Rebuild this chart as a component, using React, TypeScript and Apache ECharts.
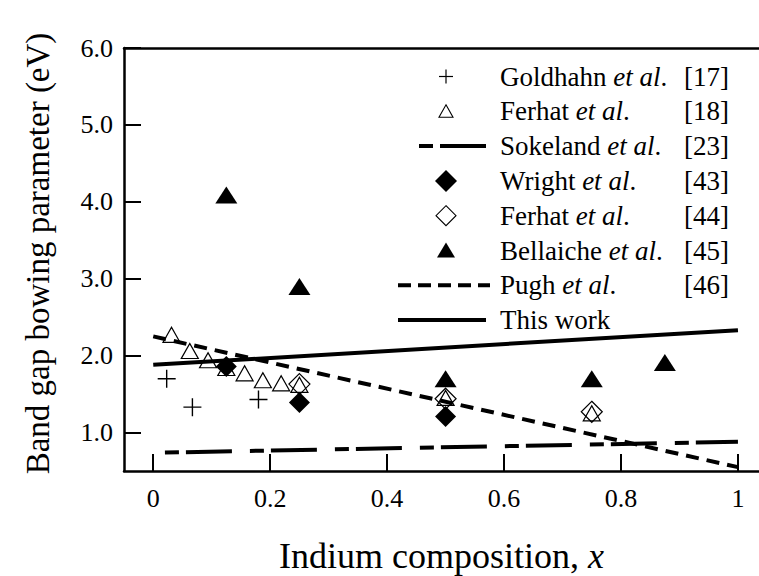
import React, { useEffect, useRef } from "react";
import * as echarts from "echarts";

// ---- data ----
const xTickValues = [0, 0.2, 0.4, 0.6, 0.8, 1];
const yTickValues = [1, 2, 3, 4, 5, 6];

const goldhahnX = [0.023, 0.067, 0.18];
const goldhahnY = [1.7, 1.33, 1.43];

const ferhat18X = [0.03125, 0.0625, 0.09375, 0.125, 0.15625, 0.1875, 0.21875, 0.25, 0.5, 0.75];
const ferhat18Y = [2.27, 2.06, 1.94, 1.84, 1.77, 1.68, 1.64, 1.62, 1.45, 1.25];

const sokelandX = [0.02, 1.0];
const sokelandY = [0.74, 0.88];

const wrightX = [0.125, 0.25, 0.5];
const wrightY = [1.86, 1.39, 1.21];

const ferhat44X = [0.25, 0.5, 0.75];
const ferhat44Y = [1.63, 1.44, 1.27];

const bellaicheX = [0.125, 0.25, 0.5, 0.75, 0.875];
const bellaicheY = [4.09, 2.9, 1.7, 1.7, 1.91];

const pughX = [0, 1];
const pughY = [2.25, 0.55];

const thisWorkX = [0, 1];
const thisWorkY = [1.88, 2.33];

const legendNames = ["Goldhahn", "Ferhat", "Sokeland", "Wright", "Ferhat", "Bellaiche", "Pugh", "This work"];
const legendEtAl = [true, true, true, true, true, true, true, false];
const legendRefs = ["[17]", "[18]", "[23]", "[43]", "[44]", "[45]", "[46]", ""];
const legendSymbols = ["plus", "openTriangle", "sokeland", "filledDiamond", "openDiamond", "filledTriangle", "pugh", "solid"];

const zip = (xs: number[], ys: number[]) => xs.map((x, i) => [x, ys[i]]);

const FONT = "Liberation Serif";
const LEG_FS = 27;
const PLUS_PATH = "path://M8.3,0 H9.7 V8.3 H18 V9.7 H9.7 V18 H8.3 V9.7 H0 V8.3 H8.3 Z";

function buildLegend(): any[] {
  const els: any[] = [];
  const y0 = 76.5;
  const dy = 34.8;
  const cx = 446;
  legendNames.forEach((name, i) => {
    const y = y0 + i * dy;
    const kind = legendSymbols[i];
    if (kind === "plus") {
      els.push({ type: "line", shape: { x1: cx - 7, y1: y, x2: cx + 7, y2: y }, style: { stroke: "#000", lineWidth: 1.2 } });
      els.push({ type: "line", shape: { x1: cx, y1: y - 7, x2: cx, y2: y + 7 }, style: { stroke: "#000", lineWidth: 1.2 } });
    } else if (kind === "openTriangle") {
      els.push({ type: "polygon", shape: { points: [[cx, y - 6.5], [cx + 7, y + 6], [cx - 7, y + 6]] }, style: { fill: "none", stroke: "#000", lineWidth: 1.1 } });
    } else if (kind === "filledTriangle") {
      els.push({ type: "polygon", shape: { points: [[cx, y - 8], [cx + 9, y + 7], [cx - 9, y + 7]] }, style: { fill: "#000" } });
    } else if (kind === "filledDiamond") {
      els.push({ type: "polygon", shape: { points: [[cx, y - 11], [cx + 11, y], [cx, y + 11], [cx - 11, y]] }, style: { fill: "#000" } });
    } else if (kind === "openDiamond") {
      els.push({ type: "polygon", shape: { points: [[cx, y - 10], [cx + 10, y], [cx, y + 10], [cx - 10, y]] }, style: { fill: "none", stroke: "#000", lineWidth: 1.1 } });
    } else if (kind === "sokeland") {
      els.push({ type: "line", shape: { x1: 419, y1: y, x2: 486, y2: y }, style: { stroke: "#000", lineWidth: 4, lineDash: [14, 7, 46, 18] } });
    } else if (kind === "pugh") {
      els.push({ type: "line", shape: { x1: 398, y1: y, x2: 490, y2: y }, style: { stroke: "#000", lineWidth: 4, lineDash: [13, 7] } });
    } else if (kind === "solid") {
      els.push({ type: "line", shape: { x1: 398, y1: y, x2: 486, y2: y }, style: { stroke: "#000", lineWidth: 4 } });
    }
    els.push({
      type: "text",
      x: 500,
      y: y,
      style: {
        text: legendEtAl[i] ? `{n|${name} }{i|et al}{n|.}` : `{n|${name}}`,
        fill: "#000",
        fontFamily: FONT,
        fontSize: LEG_FS,
        verticalAlign: "middle",
        rich: {
          n: { fontFamily: FONT, fontSize: LEG_FS },
          i: { fontFamily: FONT, fontSize: LEG_FS, fontStyle: "italic" },
        },
      },
    });
    if (legendRefs[i]) {
      els.push({
        type: "text",
        x: 729,
        y: y,
        style: { text: legendRefs[i], fontFamily: FONT, fontSize: LEG_FS, fill: "#000", align: "right", verticalAlign: "middle" },
      });
    }
  });
  return els;
}

export default function App() {
  const ref = useRef<HTMLDivElement>(null);
  useEffect(() => {
    document.body.style.margin = "0";
    const chart = echarts.init(ref.current!, null, { renderer: "svg" });
    const axisLineStyle = { color: "#000", width: 2.5 };
    const option: any = {
      animation: false,
      backgroundColor: "#fff",
      grid: { left: 124, right: 0, top: 48, bottom: 105, containLabel: false, outerBoundsMode: "none" },
      xAxis: [
        {
          type: "value",
          min: -0.05,
          max: 1.036,
          position: "bottom",
          name: "{n|Indium composition, }{x|x}",
          nameLocation: "middle",
          nameGap: 67,
          nameTextStyle: {
            fontFamily: FONT,
            fontSize: 36,
            color: "#000",
            rich: {
              n: { fontFamily: FONT, fontSize: 36, color: "#000" },
              x: { fontFamily: FONT, fontSize: 36, fontStyle: "italic", color: "#000" },
            },
          },
          axisLine: { show: true, onZero: false, lineStyle: axisLineStyle },
          axisTick: { show: true, inside: true, length: 17, lineStyle: { color: "#000", width: 2 }, customValues: xTickValues },
          axisLabel: {
            show: true,
            margin: 14,
            fontFamily: FONT,
            fontSize: 26,
            color: "#000",
            customValues: xTickValues,
            formatter: (v: number) => (v === 0 ? "0" : v === 1 ? "1" : v.toFixed(1)),
          },
          splitLine: { show: false },
        },
        {
          type: "value",
          min: -0.05,
          max: 1.036,
          position: "top",
          axisLine: { show: true, onZero: false, lineStyle: axisLineStyle },
          axisTick: { show: false },
          axisLabel: { show: false },
          splitLine: { show: false },
        },
      ],
      yAxis: {
        type: "value",
        min: 0.5,
        max: 6,
        name: "Band gap bowing parameter (eV)",
        nameLocation: "middle",
        nameGap: 70,
        nameTextStyle: { fontFamily: FONT, fontSize: 33, color: "#000", padding: [0, 0, 0, 12] },
        axisLine: { show: true, onZero: false, lineStyle: axisLineStyle },
        axisTick: { show: true, inside: true, length: 17, lineStyle: { color: "#000", width: 2 }, customValues: yTickValues },
        axisLabel: {
          show: true,
          margin: 11,
          fontFamily: FONT,
          fontSize: 26,
          color: "#000",
          customValues: yTickValues,
          formatter: (v: number) => v.toFixed(1),
        },
        splitLine: { show: false },
      },
      series: [
        {
          name: "Goldhahn et al. [17]",
          type: "scatter",
          data: zip(goldhahnX, goldhahnY),
          symbol: PLUS_PATH,
          symbolSize: 18,
          itemStyle: { color: "#000", opacity: 1 },
        },
        {
          name: "Ferhat et al. [18]",
          type: "scatter",
          data: zip(ferhat18X, ferhat18Y),
          symbol: "triangle",
          symbolSize: [17, 15],
          itemStyle: { color: "rgba(255,255,255,0)", borderColor: "#000", borderWidth: 1.2, opacity: 1 },
        },
        {
          name: "Wright et al. [43]",
          type: "scatter",
          data: zip(wrightX, wrightY),
          symbol: "diamond",
          symbolSize: 21,
          itemStyle: { color: "#000", opacity: 1 },
        },
        {
          name: "Ferhat et al. [44]",
          type: "scatter",
          data: zip(ferhat44X, ferhat44Y),
          symbol: "diamond",
          symbolSize: 21,
          itemStyle: { color: "rgba(255,255,255,0)", borderColor: "#000", borderWidth: 1.2, opacity: 1 },
        },
        {
          name: "Bellaiche et al. [45]",
          type: "scatter",
          data: zip(bellaicheX, bellaicheY),
          symbol: "triangle",
          symbolSize: [22, 17],
          itemStyle: { color: "#000", opacity: 1 },
        },
        {
          name: "Sokeland et al. [23]",
          type: "line",
          data: zip(sokelandX, sokelandY),
          showSymbol: false,
          symbol: "none",
          lineStyle: { color: "#000", width: 4, type: [14, 7, 46, 18] },
        },
        {
          name: "Pugh et al. [46]",
          type: "line",
          data: zip(pughX, pughY),
          showSymbol: false,
          symbol: "none",
          lineStyle: { color: "#000", width: 4, type: [13, 8] },
        },
        {
          name: "This work",
          type: "line",
          data: zip(thisWorkX, thisWorkY),
          showSymbol: false,
          symbol: "none",
          lineStyle: { color: "#000", width: 4 },
        },
      ],
      graphic: buildLegend(),
    };
    chart.setOption(option);
    return () => chart.dispose();
  }, []);
  return <div ref={ref} style={{ width: 759, height: 576 }} />;
}
